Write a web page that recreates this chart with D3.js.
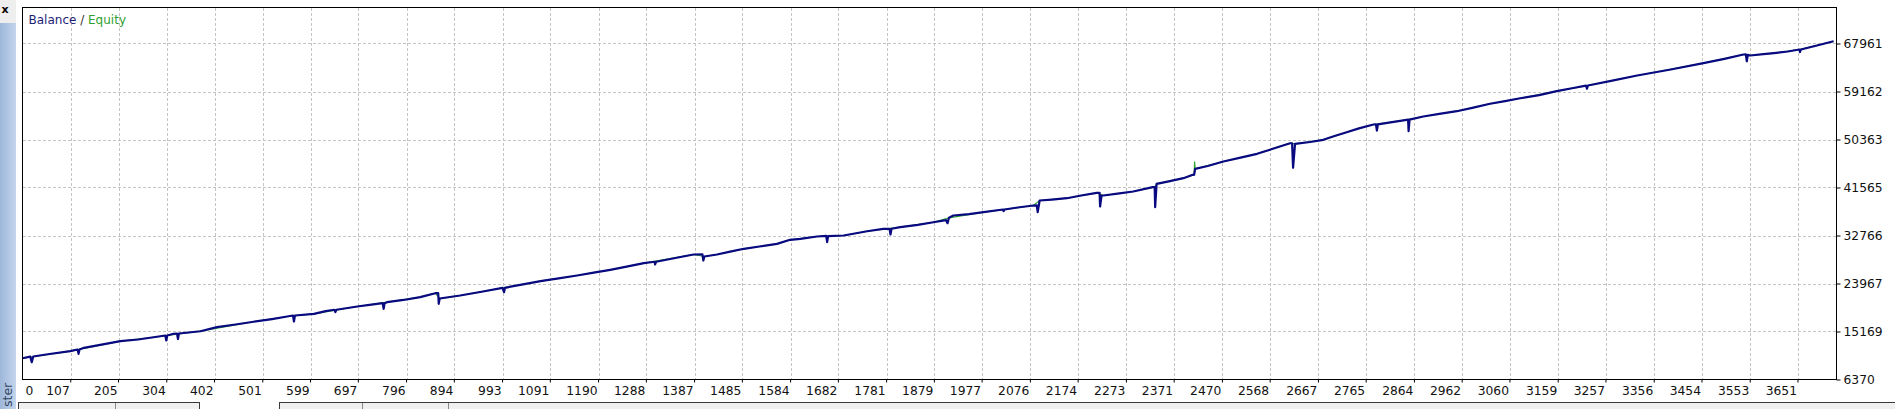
<!DOCTYPE html>
<html><head><meta charset="utf-8">
<script src="https://cdn.jsdelivr.net/npm/d3@7"></script>
<style>html,body{margin:0;padding:0;background:#fff;overflow:hidden}</style>
</head><body>
<svg id="c" width="1895" height="409"></svg>
<script>
// ---- data (trade number, balance) ----
const trades = [8,24,27,30,60,106,121,123,125,134,170,209,245,277,301,303,305,318,325,327,329,373,407,445,482,520,551,563,565,567,606,630,648,650,652,695,720,747,749,751,756,790,824,855,861,862,864,906,950,993,996,998,1035,1071,1108,1146,1180,1214,1250,1283,1305,1306,1308,1345,1385,1403,1405,1407,1433,1460,1488,1520,1556,1583,1604,1638,1657,1659,1661,1693,1741,1774,1787,1789,1791,1809,1845,1877,1903,1906,1909,1918,1950,1980,2020,2021,2023,2050,2082,2089,2091,2095,2120,2151,2180,2212,2218,2219,2222,2226,2255,2287,2327,2331,2332,2335,2360,2390,2409,2412,2414,2440,2472,2505,2541,2575,2609,2613,2615,2619,2650,2677,2700,2725,2750,2780,2785,2787,2789,2815,2848,2851,2852,2854,2882,2915,2951,2985,3019,3050,3081,3120,3156,3190,3216,3218,3220,3270,3321,3390,3457,3500,3539,3544,3546,3548,3553,3580,3607,3630,3654,3655,3657,3690,3724];
const balance = [10270,10560,9540,10590,11000,11560,11870,11080,11870,12180,12750,13390,13700,14120,14430,13520,14430,14750,14800,13760,14800,15220,15960,16450,16950,17450,17920,18100,17000,18100,18410,18900,19150,18710,19150,19750,20050,20360,19330,20360,20540,20950,21460,22190,22190,20250,21220,21770,22450,23180,22370,23180,23800,24390,24900,25430,25950,26480,27100,27690,27950,27450,27950,28600,29280,29330,28180,28920,29280,29800,30330,30750,31240,31980,32160,32580,32700,31540,32650,32770,33550,33990,34000,32950,34000,34290,34700,35200,35570,35020,36010,36430,36700,37040,37530,37220,37530,37900,38260,38300,37040,39180,39350,39600,40100,40590,40590,38080,40100,40100,40450,40830,41620,41650,37950,42240,42700,43270,43890,43900,44990,45500,46330,47000,47740,48700,49680,49680,45180,49570,49900,50310,51000,51700,52400,53110,53150,52010,53150,53500,53970,54000,51880,54000,54580,55050,55550,56200,56910,57400,57930,58500,59220,59800,60250,59660,60260,61150,62090,63200,64350,65150,65940,65950,64710,65900,65760,66000,66250,66500,66860,66400,66860,67600,68380];
const equityTrades = [8,106,209,277,373,482,551,606,695,756,824,855,864,906,993,1071,1146,1214,1283,1385,1407,1433,1488,1556,1583,1638,1693,1741,1809,1877,1909,1980,2082,2095,2151,2212,2226,2287,2331,2335,2390,2412,2413,2414,2472,2541,2609,2619,2677,2725,2780,2848,2882,2951,3019,3081,3156,3220,3321,3457,3539,3553,3607,3654,3724];
const equity = [10270,11560,13390,14120,15220,16950,17920,18410,19750,20540,21460,22190,21220,21770,23180,24390,25430,26480,27690,29280,28920,29280,30330,31240,31980,32580,32770,33550,34290,35200,36010,37040,38260,39180,39600,40590,40100,40830,41650,42240,43270,43900,46330,44990,46330,47740,49680,49570,50310,51700,53110,53970,54580,55550,56910,57930,59220,60260,62090,64350,65940,65760,66250,66860,68380];
const xTickLabels = [0,107,205,304,402,501,599,697,796,894,993,1091,1190,1288,1387,1485,1584,1682,1781,1879,1977,2076,2174,2273,2371,2470,2568,2667,2765,2864,2962,3060,3159,3257,3356,3454,3553,3651];
const yTickLabels = [6370,15169,23967,32766,41565,50363,59162,67961];
const legendParts = ["Balance", " / ", "Equity"];
const sideTitle = "ster";

// ---- layout ----
const W = 1895, H = 409;
const plot = {left: 22.5, top: 7.5, right: 1836.5, bottom: 379.5};
const FONT = "'DejaVu Sans', Verdana, sans-serif";

const svg = d3.select("#c");

const x = d3.scaleLinear().domain([8, 3730]).range([plot.left, plot.right]);
const y = d3.scaleLinear().domain([6370, 74560]).range([plot.bottom, plot.top]);

// ---- window chrome ----
const defs = svg.append("defs");
const grad = defs.append("linearGradient").attr("id", "side").attr("x1", 0).attr("x2", 1);
grad.append("stop").attr("offset", 0).attr("stop-color", "#9db7da");
grad.append("stop").attr("offset", 1).attr("stop-color", "#c4d5ec");
svg.append("rect").attr("x", 0).attr("y", 0).attr("width", 16).attr("height", 23).attr("fill", "#eeeeee");
svg.append("rect").attr("x", 0).attr("y", 23).attr("width", 16).attr("height", H - 23).attr("fill", "url(#side)");
svg.append("text").attr("x", 5).attr("y", 13).attr("text-anchor", "middle")
  .attr("font-family", FONT).attr("font-weight", "bold").attr("font-size", 11).attr("fill", "#000").text("x");
svg.append("text").attr("transform", "translate(12,407) rotate(-90)").attr("text-anchor", "start")
  .attr("font-family", FONT).attr("font-size", 12.5).attr("fill", "#2e4260").text(sideTitle);

// bottom tab strip
const tabs = svg.append("g");
tabs.append("rect").attr("x", 18.5).attr("y", 402.5).attr("width", 181).attr("height", 10).attr("fill", "#f0f0f0").attr("stroke", "#3a3a3a");
tabs.append("rect").attr("x", 279.5).attr("y", 402.5).attr("width", 1620).attr("height", 10).attr("fill", "#f0f0f0").attr("stroke", "#3a3a3a");
[115, 362, 448].forEach(v => tabs.append("line").attr("x1", v + 0.5).attr("x2", v + 0.5).attr("y1", 403).attr("y2", 409).attr("stroke", "#8a8a8a"));

// ---- grid ----
const grid = svg.append("g").attr("stroke", "#c4c4c4").attr("stroke-dasharray", "3,2").attr("shape-rendering", "crispEdges");
grid.selectAll("line.v").data(xTickLabels.filter(d => x(d) > plot.left + 1)).join("line")
  .attr("x1", d => Math.round(x(d)) + 0.5).attr("x2", d => Math.round(x(d)) + 0.5)
  .attr("y1", plot.top).attr("y2", plot.bottom);
grid.selectAll("line.h").data(yTickLabels.filter(d => y(d) < plot.bottom - 1)).join("line")
  .attr("class", "h")
  .attr("x1", plot.left).attr("x2", plot.right)
  .attr("y1", d => Math.round(y(d)) + 0.5).attr("y2", d => Math.round(y(d)) + 0.5);

// ---- series ----
const eqLine = d3.line().x((d, i) => x(equityTrades[i])).y(d => y(d));
svg.append("path").attr("d", eqLine(equity)).attr("fill", "none").attr("stroke", "#2fa52f").attr("stroke-width", 1.2);

const balLine = d3.line().x((d, i) => x(trades[i])).y(d => y(d));
svg.append("path").attr("d", balLine(balance)).attr("fill", "none").attr("stroke", "#0a0a80")
  .attr("stroke-width", 2.2).attr("stroke-linejoin", "round");

// ---- frame ----
svg.append("rect").attr("x", plot.left).attr("y", plot.top)
  .attr("width", plot.right - plot.left).attr("height", plot.bottom - plot.top)
  .attr("fill", "none").attr("stroke", "#000").attr("shape-rendering", "crispEdges");

// ---- axes ----
const yAxis = svg.append("g").attr("transform", `translate(${plot.right},0)`)
  .call(d3.axisRight(y).tickValues(yTickLabels).tickSize(4).tickPadding(3).tickFormat(d3.format("d")));
yAxis.select(".domain").remove();
yAxis.selectAll("text").attr("font-family", FONT).attr("font-size", 12.3).attr("fill", "#111");
yAxis.selectAll("line").attr("stroke", "#000");

const xAxis = svg.append("g").attr("transform", `translate(0,${plot.bottom})`)
  .call(d3.axisBottom(x).tickValues(xTickLabels).tickSize(3).tickFormat(d3.format("d")));
xAxis.select(".domain").remove();
xAxis.selectAll("line").attr("stroke", "#000").attr("opacity", d => x(d) > plot.left + 1 ? 1 : 0);
xAxis.selectAll(".tick").attr("transform", d => `translate(${Math.max(x(d), plot.left)},0)`);
xAxis.selectAll("text").attr("font-family", FONT).attr("font-size", 12.3).attr("fill", "#111")
  .attr("y", 7).attr("dy", "0.71em")
  .attr("text-anchor", d => x(d) > plot.left + 1 ? "end" : "start")
  .attr("x", d => x(d) > plot.left + 1 ? -1 : 3);

// ---- legend ----
const legendColors = ["#1e1e78", "#333333", "#30a030"];
const lg = svg.append("text").attr("x", plot.left + 6).attr("y", 24)
  .attr("font-family", FONT).attr("font-size", 12).attr("xml:space", "preserve");
lg.selectAll("tspan").data(legendParts).join("tspan").attr("fill", (d, i) => legendColors[i]).text(d => d);
</script>
</body></html>
